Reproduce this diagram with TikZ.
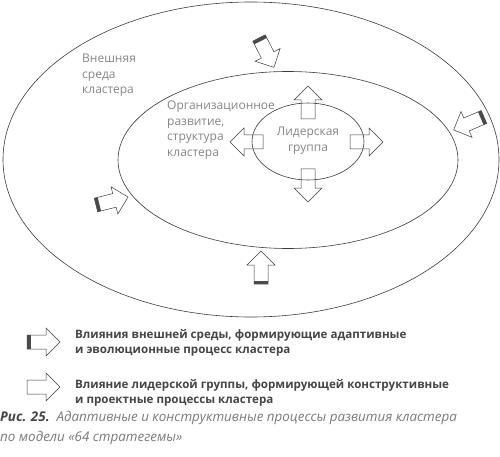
\documentclass[tikz,border=0pt]{standalone}
\usepackage{fontspec}
\setmainfont{Open Sans}
\definecolor{labelgray}{HTML}{858585}
\definecolor{textgray}{HTML}{454545}
\definecolor{captiongray}{HTML}{7A7A7A}
\definecolor{linegray}{HTML}{3A3A3A}
\definecolor{bargray}{HTML}{4A4A4A}

\tikzset{
  zone/.style={draw=linegray,line width=0.6pt},
  zonelabel/.style={labelgray,font=\fontsize{12}{15.5}\selectfont,align=left,anchor=north west,inner sep=0pt},
  blockarrow/.style={draw=linegray,line width=0.5pt,fill=white,line join=miter},
  legendtext/.style={textgray,font=\bfseries\fontsize{11.6}{15}\selectfont,align=left,anchor=north west,inner sep=0pt},
  captiontext/.style={captiongray,font=\itshape\fontsize{13.4}{19.5}\selectfont,align=left,anchor=north west,inner sep=0pt},
}

\newcommand{\blockarrowpath}{(0,-7) -- (19,-7) -- (19,-14) -- (33,0) -- (19,14) -- (19,7) -- (0,7) -- cycle}

\begin{document}
\begin{tikzpicture}[x=1pt,y=-1pt]
  \useasboundingbox (0,0) rectangle (500,457);

  % arrows of the leader group
  \foreach \x/\y/\a in {308/119/90,308/169/-90,263/142/180,350/142/0}
    \draw[blockarrow,shift={(\x,\y)},rotate=\a] \blockarrowpath;

  % arrows of the environment, dark bar at the tail
  \foreach \x/\y/\a in {259/38/-63,484/117/203,96/205/14,261/284/90,27/342/0}
  {
    \draw[blockarrow,shift={(\x,\y)},rotate=\a] \blockarrowpath;
    \fill[bargray,shift={(\x,\y)},rotate=\a] (0,-7) rectangle (3.5,7);
  }
  \draw[blockarrow,shift={(27,387)}] \blockarrowpath;

  % zones
  \draw[zone] (251,159.5) ellipse [x radius=248pt, y radius=157.5pt];
  \draw[zone] (288,160) ellipse [x radius=170pt, y radius=88.5pt];
  \draw[zone] (308,141.5) ellipse [x radius=56pt, y radius=38.5pt];

  \node[zonelabel] (outerlabel) at (82,54) {Внешняя\\среда\\кластера};
  \node[zonelabel] (middlelabel) at (167,101) {Организационное\\развитие,\\структура\\кластера};
  \node[zonelabel,align=center,anchor=north] (innerlabel) at (308,127) {Лидерская\\группа};

  % legend
  \node[legendtext] (legendenv) at (75,329)
    {Влияния внешней среды, формирующие адаптивные\\и эволюционные процесс кластера};
  \node[legendtext] (legendlead) at (75,379)
    {Влияние лидерской группы, формирующей конструктивные\\и проектные процессы кластера};

  \node[captiontext] (caption) at (0,411)
    {{\bfseries\color{textgray}Рис. 25.}\ \ Адаптивные и конструктивные процессы развития кластера\\по модели «64 стратегемы»};
\end{tikzpicture}
\end{document}
